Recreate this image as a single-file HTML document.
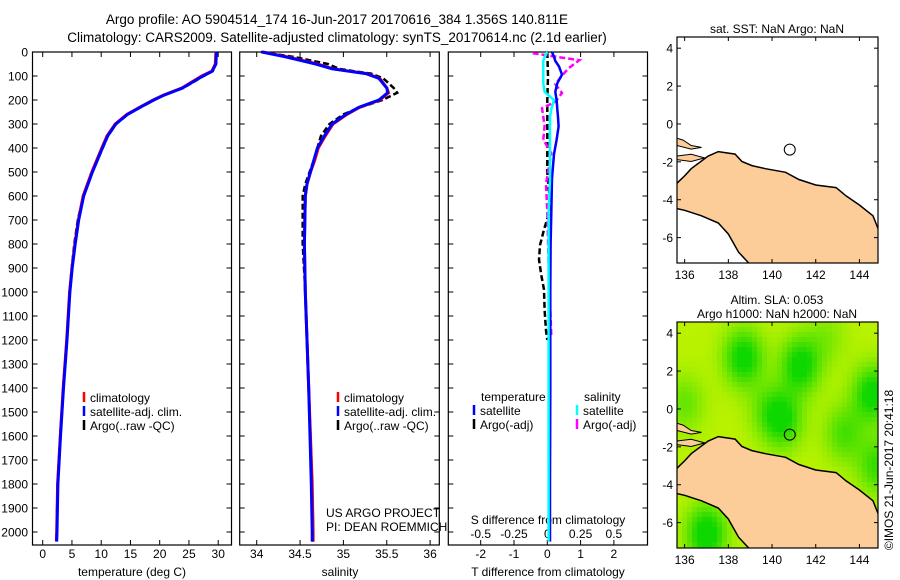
<!DOCTYPE html>
<html><head><meta charset="utf-8">
<style>
html,body{margin:0;padding:0;background:#fff;}
svg{display:block;font-family:"Liberation Sans",sans-serif;}
text{fill:#000;}
</style></head>
<body>
<svg id="fig" width="900" height="580" viewBox="0 0 900 580" xmlns="http://www.w3.org/2000/svg">
<text x="337" y="24" font-size="13.5" text-anchor="middle">Argo profile: AO 5904514_174 16-Jun-2017 20170616_384 1.356S 140.811E</text>
<text x="337" y="42" font-size="13.5" text-anchor="middle">Climatology: CARS2009. Satellite-adjusted climatology: synTS_20170614.nc (2.1d earlier)</text>
<g id="g1"></g>
<g id="g2"></g>
<g id="g3"></g>
<g id="m1"></g>
<g id="m2"></g>
<text font-size="12" transform="translate(893,470) rotate(-90)" text-anchor="middle">©IMOS 21-Jun-2017 20:41:18</text>
</svg>
<script>
// ---- data ----
const depthT = [0,50,80,100,150,180,200,230,260,300,350,400,500,600,700,800,900,1000,1200,1400,1600,1800,2000,2040];
const tempClim = [29.6,29.5,28.9,27.2,23.8,20.6,18.9,16.6,14.4,12.4,11.0,10.1,8.4,6.9,6.1,5.5,5.0,4.6,4.1,3.5,3.0,2.55,2.4,2.35];
const tempSat  = [29.7,29.6,29.0,27.4,23.9,20.7,19.0,16.7,14.5,12.5,11.1,10.2,8.5,7.0,6.15,5.55,5.05,4.65,4.15,3.55,3.05,2.6,2.45,2.4];
const tempArgo = [29.75,29.6,29.05,27.5,24.0,20.75,19.05,16.75,14.55,12.55,11.15,10.25,8.5,6.95,6.0,5.4,4.95,4.6,4.1,3.5,3.0,2.55,2.4,2.35];
const depthS = [0,20,50,70,80,90,110,150,170,200,230,260,300,350,400,450,500,550,600,800,1000,1400,1800,2000,2040];
const salClim = [34.07,34.35,34.7,34.88,35.07,35.27,35.42,35.5,35.52,35.42,35.19,35.04,34.88,34.79,34.71,34.67,34.62,34.58,34.56,34.55,34.56,34.6,34.64,34.65,34.65];
const salSat  = [34.06,34.33,34.68,34.87,35.06,35.26,35.41,35.5,35.51,35.41,35.18,35.03,34.87,34.78,34.7,34.66,34.62,34.58,34.56,34.55,34.56,34.6,34.63,34.64,34.64];
const salArgo = [34.05,34.42,34.82,34.95,35.12,35.32,35.46,35.58,35.62,35.45,35.2,35.0,34.84,34.74,34.7,34.66,34.61,34.56,34.53,34.53,34.56,34.6,34.64,34.65,34.65];
const depthD = [0,20,37,60,94,130,166,200,238,270,310,366,426,527,670,800,1000,1400,1800,2040];
const dTsat  = [0.14,0.2,0.24,0.35,0.44,0.3,0.24,0.28,0.3,0.32,0.34,0.28,0.2,0.14,0.12,0.1,0.09,0.09,0.08,0.08];
const dSsat  = [0.0,-0.02,-0.03,-0.03,-0.03,-0.03,-0.02,0.05,0.03,0.02,0.02,0.02,0.02,0.02,0.01,0.01,0.01,0.01,0.01,0.01];
const depthDA = [0,100,200,300,400,500,650,740,805,865,930,990,1075,1160,1200];
const dTargo = [0.0,0.02,0.0,0.0,0.0,0.0,0.1,-0.1,-0.22,-0.25,-0.18,-0.1,-0.08,-0.04,0.0];
const depthSA = [5,34,68,92,134,171,207,234,270,307,366,422,550,666,882,1183];
const dSargo = [-0.11,0.24,0.16,0.12,0.06,0.11,0.06,-0.04,-0.03,-0.02,-0.03,0.03,-0.01,0.0,0.01,0.03];
const depthTicks = [0,100,200,300,400,500,600,700,800,900,1000,1100,1200,1300,1400,1500,1600,1700,1800,1900,2000];
const tempTicks = [0,5,10,15,20,25,30];
const salTicks = [34,34.5,35,35.5,36];
const dTTicks = [-2,-1,0,1,2];
const dSTicks = [-0.5,-0.25,0,0.25,0.5];
const lonTicks = [136,138,140,142,144];
const latTicks = [4,2,0,-2,-4,-6];
const argoLon = 140.811, argoLat = -1.356;
const northCoast = [[135.65,-3.13],[136.0,-2.74],[136.3,-2.36],[137.08,-1.69],[137.54,-1.46],[138.31,-1.59],[138.62,-1.98],[139.08,-2.2],[139.7,-2.36],[140.62,-2.55],[141.23,-2.93],[142.0,-3.22],[142.93,-3.36],[143.39,-3.8],[144.0,-4.28],[144.62,-4.85],[144.85,-5.52]];
const southCoast = [[138.93,-7.34],[138.47,-6.77],[138.0,-5.81],[137.54,-5.23],[136.77,-4.85],[136.0,-4.56],[135.65,-4.47]];
const island1 = [[135.65,-0.75],[135.93,-0.85],[136.3,-1.14],[136.77,-1.24],[136.3,-1.33],[135.65,-1.14]];
const island2 = [[135.65,-1.69],[136.3,-1.6],[136.92,-1.79],[136.3,-1.98],[135.65,-1.88]];
const blobLon = [138.7,141.3,140.5,144.6,143.3,144.8,137.0,136.0,139.8,142.5];
const blobLat = [2.7,2.3,-0.6,0.8,-1.3,-3.0,-6.6,0.3,0.0,3.8];
const blobAmp = [1.0,1.0,0.85,1.0,0.6,0.7,1.1,0.45,0.4,0.3];

// ---- helpers ----
const NS='http://www.w3.org/2000/svg';
function mk(parent,tag,attrs,txt){const e=document.createElementNS(NS,tag);for(const k in attrs)e.setAttribute(k,attrs[k]);if(txt!==undefined)e.textContent=txt;parent.appendChild(e);return e;}
const Y0=52, YB=545;
const yD=d=>Y0+d*0.24;
function polyline(g,xs,ds,xf,color,dash,w,name){
  const pts=xs.map((v,i)=>xf(v).toFixed(1)+','+yD(ds[i]).toFixed(1)).join(' ');
  const a={points:pts,fill:'none',stroke:color,'stroke-width':w||3};
  if(dash)a['stroke-dasharray']=dash;
  const e=mk(g,'polyline',a);
  
  
}
function panel(g,x0,x1,name){
  const r=mk(g,'rect',{x:x0,y:Y0,width:x1-x0,height:YB-Y0,fill:'none',stroke:'#000','stroke-width':1.2});
  
  
  depthTicks.forEach(d=>{
    const t1=mk(g,'line',{x1:x0,x2:x0+5,y1:yD(d),y2:yD(d),stroke:'#000'});
    
    
    const t2=mk(g,'line',{x1:x1-5,x2:x1,y1:yD(d),y2:yD(d),stroke:'#000'});
    
    
  });
}
function xticks(g,ticks,xf,ly,labels){
  ticks.forEach((v,i)=>{
    const x=xf(v);
    const a=mk(g,'line',{x1:x,x2:x,y1:YB-5,y2:YB,stroke:'#000'});
    
    
    const b=mk(g,'line',{x1:x,x2:x,y1:Y0,y2:Y0+5,stroke:'#000'});
    
    
    if(ly){const t=mk(g,'text',{x:x,y:ly,'font-size':12,'text-anchor':'middle'},labels?labels[i]:String(v));
    
    }
  });
}
function legendEntry(g,x,y,color,label){
  const m=mk(g,'line',{x1:x,x2:x,y1:y-10,y2:y,stroke:color,'stroke-width':2.5});
  
  
  const t=mk(g,'text',{x:x+6,y:y,'font-size':12},label);
  
  
}

// ---- panel 1: temperature ----
const g1=document.getElementById('g1');
const xT=t=>42.7+t*5.85;
panel(g1,32.5,231.5,'temperature');
depthTicks.forEach(d=>{const t=mk(g1,'text',{x:28,y:yD(d)+4.5,'font-size':12,'text-anchor':'end'},String(d));

});
xticks(g1,tempTicks,xT,558);
const xl1=mk(g1,'text',{x:132,y:576,'font-size':12,'text-anchor':'middle'},'temperature (deg C)');


polyline(g1,tempArgo,depthT,xT,'#000','6 3',2.5,'argo-temperature-line');
polyline(g1,tempClim,depthT,xT,'#ff0000',null,3,'climatology-temperature-line');
polyline(g1,tempSat,depthT,xT,'#0000ff',null,3,'satellite-temperature-line');
legendEntry(g1,84,402,'#ff0000','climatology');
legendEntry(g1,84,416,'#0000ff','satellite-adj. clim.');
legendEntry(g1,84,430,'#000','Argo(..raw -QC)');

// ---- panel 2: salinity ----
const g2=document.getElementById('g2');
const xS=s=>256.7+(s-34)*86.7;
panel(g2,239.7,439.3,'salinity');
xticks(g2,salTicks,xS,558);
const xl2=mk(g2,'text',{x:340,y:576,'font-size':12,'text-anchor':'middle'},'salinity');


polyline(g2,salArgo,depthS,xS,'#000','6 3',2.5,'argo-salinity-line');
polyline(g2,salClim,depthS,xS,'#ff0000',null,3,'climatology-salinity-line');
polyline(g2,salSat,depthS,xS,'#0000ff',null,3,'satellite-salinity-line');
legendEntry(g2,338,402,'#ff0000','climatology');
legendEntry(g2,338,416,'#0000ff','satellite-adj. clim.');
legendEntry(g2,338,430,'#000','Argo(..raw -QC)');
const p1=mk(g2,'text',{x:326,y:517,'font-size':12},'US ARGO PROJECT');


const p2=mk(g2,'text',{x:326,y:531,'font-size':12},'PI: DEAN ROEMMICH');



// ---- panel 3: differences ----
const g3=document.getElementById('g3');
const xDT=t=>547.3+t*33.3;
const xDS=s=>547.3+s*133.2;
panel(g3,448.3,647.5,'difference');
xticks(g3,dTTicks,xDT,558);
dSTicks.forEach((v,i)=>{const t=mk(g3,'text',{x:xDS(v),y:538,'font-size':12,'text-anchor':'middle'},String(v));

});
const sl=mk(g3,'text',{x:548,y:524,'font-size':12,'text-anchor':'middle'},'S difference from climatology');


const tl=mk(g3,'text',{x:548,y:576,'font-size':12,'text-anchor':'middle'},'T difference from climatology');


polyline(g3,dTargo,depthDA,xDT,'#000','6 3',2.5,'argo-t-difference-line');
polyline(g3,dSargo,depthSA,xDS,'#ff00ff','6 3',2.5,'argo-s-difference-line');
polyline(g3,dTsat,depthD,xDT,'#0000ff',null,2.5,'satellite-t-difference-line');
polyline(g3,dSsat,depthD,xDS,'#00ffff',null,2.5,'satellite-s-difference-line');
const lt=mk(g3,'text',{x:481,y:401,'font-size':12},'temperature');


const ls=mk(g3,'text',{x:584,y:401,'font-size':12},'salinity');


legendEntry(g3,474,415,'#0000ff','satellite');
legendEntry(g3,474,429,'#000','Argo(-adj)');
legendEntry(g3,577,415,'#00ffff','satellite');
legendEntry(g3,577,429,'#ff00ff','Argo(-adj)');

// ---- maps ----
const LON0=135.65,LON1=144.85,LAT0=-7.34,LAT1=4.59;
function map(gid,top,title,heat){
  const g=document.getElementById(gid);
  const X0=677,X1=878,H=226;
  const px=lo=>X0+(lo-LON0)/(LON1-LON0)*(X1-X0);
  const py=la=>top+(LAT1-la)/(LAT1-LAT0)*H;
  const cid='clip'+gid;
  const cp=mk(g,'clipPath',{id:cid});
  mk(cp,'rect',{x:X0,y:top,width:X1-X0,height:H});
  const inner=mk(g,'g',{'clip-path':'url(#'+cid+')'});
  
  
  if(heat){
    const cw=5,ch=5;
    for(let x=X0;x<X1;x+=cw){for(let y=top;y<top+H;y+=ch){
      const lo=LON0+(x+cw/2-X0)/(X1-X0)*(LON1-LON0);
      const la=LAT1-(y+ch/2-top)/H*(LAT1-LAT0);
      let v=0.1;
      for(let i=0;i<blobLon.length;i++){const dx=(lo-blobLon[i])/0.9,dy=(la-blobLat[i])/1.5;v+=blobAmp[i]*Math.exp(-(dx*dx+dy*dy));}
      v=Math.max(0,Math.min(1,v));
      const r=Math.round(205-190*v),gg=Math.round(245-30*v),b=0;
      const c=mk(inner,'rect',{x:x,y:y,width:cw+0.5,height:ch+0.5,fill:`rgb(${r},${gg},${b})`});
      
      
    }}
  }
  const land=northCoast.concat([[145.5,-5.6],[145.5,-8],[139,-8]]).concat(southCoast).concat([[135,-4.47],[135,-3.13]]);
  const lp=mk(inner,'polygon',{points:land.map(p=>px(p[0]).toFixed(1)+','+py(p[1]).toFixed(1)).join(' '),fill:'#fccc99',stroke:'none'});
  
  
  [northCoast,southCoast].forEach(c=>{const l=mk(inner,'polyline',{points:c.map(p=>px(p[0]).toFixed(1)+','+py(p[1]).toFixed(1)).join(' '),fill:'none',stroke:'#000','stroke-width':1.5});
  
  });
  [island1,island2].forEach(c=>{const l=mk(inner,'polygon',{points:c.map(p=>px(p[0]).toFixed(1)+','+py(p[1]).toFixed(1)).join(' '),fill:'#fccc99',stroke:'#000','stroke-width':1});
  
  });
  const circ=mk(g,'circle',{cx:px(argoLon),cy:py(argoLat),r:5.5,fill:'none',stroke:'#000','stroke-width':1});
  
  
  const fr=mk(g,'rect',{x:X0,y:top,width:X1-X0,height:H,fill:'none',stroke:'#000','stroke-width':1.2});
  
  
  lonTicks.forEach(v=>{
    const a=mk(g,'line',{x1:px(v),x2:px(v),y1:top+H-4,y2:top+H,stroke:'#000'});
    
    
    const b=mk(g,'line',{x1:px(v),x2:px(v),y1:top,y2:top+4,stroke:'#000'});
    
    
    const t=mk(g,'text',{x:px(v),y:top+H+16,'font-size':12,'text-anchor':'middle'},String(v));
    
    
  });
  latTicks.forEach(v=>{
    const a=mk(g,'line',{x1:X0,x2:X0+4,y1:py(v),y2:py(v),stroke:'#000'});
    
    
    const b=mk(g,'line',{x1:X1-4,x2:X1,y1:py(v),y2:py(v),stroke:'#000'});
    
    
    const t=mk(g,'text',{x:673,y:py(v)+4.5,'font-size':12,'text-anchor':'end'},String(v));
    
    
  });
  title.forEach((s,i)=>{const t=mk(g,'text',{x:777,y:top-(title.length-i)*14+10,'font-size':12,'text-anchor':'middle'},s);
  
  });
}
map('m1',37,['sat. SST: NaN Argo: NaN'],false);
map('m2',322,['Altim. SLA: 0.053','Argo h1000: NaN h2000: NaN'],true);
</script>
</body></html>
